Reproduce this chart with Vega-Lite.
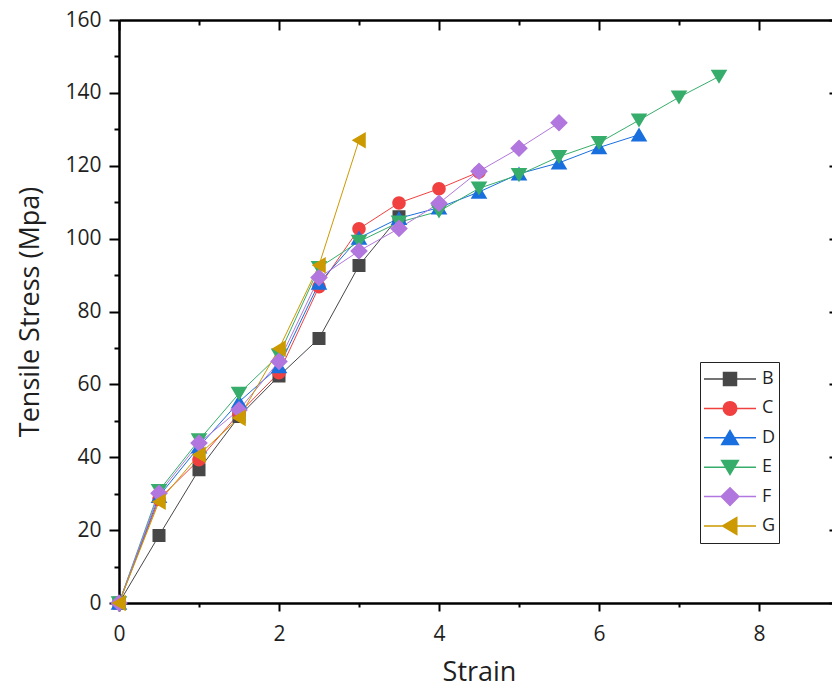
{
  "$schema": "https://vega.github.io/schema/vega-lite/v6.json",
  "autosize": {"type": "none"},
  "padding": {"left": 119, "top": 20, "right": 0, "bottom": 84},
  "width": 720,
  "height": 583,
  "background": "white",
  "config": {
    "font": "Open Sans",
    "view": {"stroke": null},
    "axis": {
      "grid": false,
      "domainColor": "#000000",
      "domainWidth": 2.5,
      "tickColor": "#000000",
      "tickWidth": 2,
      "labelFontSize": 21,
      "labelColor": "#1f1f1f",
      "labelFlush": false,
      "labelOverlap": false,
      "titleFontSize": 27,
      "titleFontWeight": "normal",
      "titleColor": "#1f1f1f"
    },
    "legend": {
      "orient": "bottom-right",
      "offset": 60,
      "title": null,
      "symbolSize": 2704,
      "clipHeight": 28,
      "rowPadding": 1.4,
      "padding": 3,
      "labelOffset": 5,
      "labelFontSize": 18,
      "labelColor": "#1f1f1f",
      "strokeColor": "#222222",
      "fillColor": "white",
      "cornerRadius": 0,
      "symbolStrokeWidth": 1.5
    }
  },
  "data": {
    "values": [
      {"s": "B", "x": 0, "y": 0}, {"s": "B", "x": 0.5, "y": 18.5}, {"s": "B", "x": 1, "y": 36.6}, {"s": "B", "x": 1.5, "y": 51.2}, {"s": "B", "x": 2, "y": 62.3}, {"s": "B", "x": 2.5, "y": 72.6}, {"s": "B", "x": 3, "y": 92.6}, {"s": "B", "x": 3.5, "y": 106},
      {"s": "C", "x": 0, "y": 0}, {"s": "C", "x": 0.5, "y": 28.5}, {"s": "C", "x": 1, "y": 39.3}, {"s": "C", "x": 1.5, "y": 52}, {"s": "C", "x": 2, "y": 63.2}, {"s": "C", "x": 2.5, "y": 86.8}, {"s": "C", "x": 3, "y": 102.7}, {"s": "C", "x": 3.5, "y": 109.8}, {"s": "C", "x": 4, "y": 113.7}, {"s": "C", "x": 4.5, "y": 118.3},
      {"s": "D", "x": 0, "y": 0}, {"s": "D", "x": 0.5, "y": 29.3}, {"s": "D", "x": 1, "y": 42.9}, {"s": "D", "x": 1.5, "y": 55.2}, {"s": "D", "x": 2, "y": 64.9}, {"s": "D", "x": 2.5, "y": 87.8}, {"s": "D", "x": 3, "y": 100.2}, {"s": "D", "x": 3.5, "y": 105.6}, {"s": "D", "x": 4, "y": 108.5}, {"s": "D", "x": 4.5, "y": 112.8}, {"s": "D", "x": 5, "y": 117.8}, {"s": "D", "x": 5.5, "y": 120.8}, {"s": "D", "x": 6, "y": 125}, {"s": "D", "x": 6.5, "y": 128.5},
      {"s": "E", "x": 0, "y": 0}, {"s": "E", "x": 0.5, "y": 30.8}, {"s": "E", "x": 1, "y": 44.7}, {"s": "E", "x": 1.5, "y": 57.5}, {"s": "E", "x": 2, "y": 68}, {"s": "E", "x": 2.5, "y": 92}, {"s": "E", "x": 3, "y": 99.2}, {"s": "E", "x": 3.5, "y": 104.5}, {"s": "E", "x": 4, "y": 107.5}, {"s": "E", "x": 4.5, "y": 113.8}, {"s": "E", "x": 5, "y": 117.5}, {"s": "E", "x": 5.5, "y": 122.5}, {"s": "E", "x": 6, "y": 126.3}, {"s": "E", "x": 6.5, "y": 132.5}, {"s": "E", "x": 7, "y": 138.8}, {"s": "E", "x": 7.5, "y": 144.5},
      {"s": "F", "x": 0, "y": 0}, {"s": "F", "x": 0.5, "y": 30.1}, {"s": "F", "x": 1, "y": 43.9}, {"s": "F", "x": 1.5, "y": 53}, {"s": "F", "x": 2, "y": 66.3}, {"s": "F", "x": 2.5, "y": 89.3}, {"s": "F", "x": 3, "y": 96.6}, {"s": "F", "x": 3.5, "y": 102.8}, {"s": "F", "x": 4, "y": 109.7}, {"s": "F", "x": 4.5, "y": 118.5}, {"s": "F", "x": 5, "y": 124.8}, {"s": "F", "x": 5.5, "y": 131.8},
      {"s": "G", "x": 0, "y": 0}, {"s": "G", "x": 0.5, "y": 27.8}, {"s": "G", "x": 1, "y": 40.7}, {"s": "G", "x": 1.5, "y": 50.8}, {"s": "G", "x": 2, "y": 69.8}, {"s": "G", "x": 2.5, "y": 92.7}, {"s": "G", "x": 3, "y": 127}
    ]
  },
  "layer": [
    {
      "mark": {"type": "line", "strokeWidth": 1, "clip": false},
      "encoding": {
        "x": {
          "field": "x", "type": "quantitative",
          "scale": {"domain": [0, 9], "nice": false, "zero": false},
          "axis": {
            "orient": "bottom",
            "title": "Strain",
            "values": [0, 1, 2, 3, 4, 5, 6, 7, 8, 9],
            "labelExpr": "datum.value % 2 == 0 ? datum.label : ''",
            "tickSize": {"condition": {"test": "datum.value % 2 == 0", "value": 8}, "value": 4},
            "labelPadding": 12,
            "titlePadding": 15
          }
        },
        "y": {
          "field": "y", "type": "quantitative",
          "scale": {"domain": [0, 160], "nice": false},
          "axis": {
            "orient": "left",
            "title": "Tensile Stress (Mpa)",
            "values": [0, 10, 20, 30, 40, 50, 60, 70, 80, 90, 100, 110, 120, 130, 140, 150, 160],
            "labelExpr": "datum.value % 20 == 0 ? datum.label : ''",
            "tickSize": {"condition": {"test": "datum.value % 20 == 0", "value": 10}, "value": 5},
            "labelPadding": 8,
            "titlePadding": 20
          }
        },
        "color": {
          "field": "s", "type": "nominal",
          "scale": {"domain": ["B", "C", "D", "E", "F", "G"], "range": ["#474747", "#f14040", "#1a6fdf", "#37ad6b", "#b177de", "#cc9900"]}
        }
      }
    },
    {
      "mark": {"type": "point", "filled": true, "size": 2704, "opacity": 1, "clip": false},
      "encoding": {
        "x": {
          "field": "x", "type": "quantitative",
          "axis": {
            "orient": "top",
            "title": null,
            "labels": false,
            "values": [0, 1, 2, 3, 4, 5, 6, 7, 8, 9],
            "tickSize": {"condition": {"test": "datum.value % 2 == 0", "value": -10}, "value": -5}
          }
        },
        "y": {
          "field": "y", "type": "quantitative",
          "axis": {
            "orient": "right",
            "title": null,
            "labels": false,
            "values": [0, 10, 20, 30, 40, 50, 60, 70, 80, 90, 100, 110, 120, 130, 140, 150, 160],
            "tickSize": {"condition": {"test": "datum.value % 20 == 0", "value": -10}, "value": -5}
          }
        },
        "color": {"field": "s", "type": "nominal"},
        "shape": {
          "field": "s", "type": "nominal",
          "scale": {
            "domain": ["B", "C", "D", "E", "F", "G"],
            "range": [
              "M-1,0H1M-0.25,-0.25H0.25V0.25H-0.25Z",
              "M-1,0H1M-0.26,0A0.26,0.26,0,1,0,0.26,0A0.26,0.26,0,1,0,-0.26,0Z",
              "M-1,0H1M0,-0.28L0.32,0.26L-0.32,0.26Z",
              "M-1,0H1M0,0.28L0.32,-0.26L-0.32,-0.26Z",
              "M-1,0H1M0,-0.34L0.34,0L0,0.34L-0.34,0Z",
              "M-1,0H1M-0.28,0L0.26,-0.32L0.26,0.32Z"
            ]
          }
        }
      }
    }
  ],
  "resolve": {"axis": {"x": "independent", "y": "independent"}}
}
